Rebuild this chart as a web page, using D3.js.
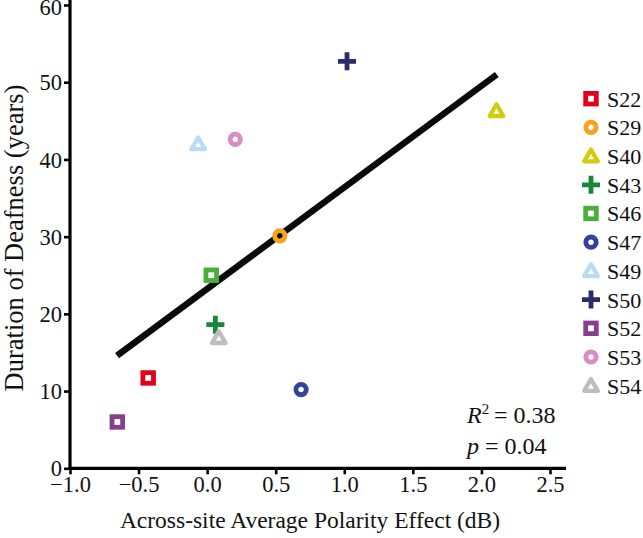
<!DOCTYPE html>
<html><head><meta charset="utf-8">
<script src="https://cdn.jsdelivr.net/npm/d3@7"></script>
<style>body{margin:0;background:#fff}svg{display:block}text{font-family:"Liberation Serif","Times New Roman",serif}</style>
</head><body><svg id="c" width="643" height="538"></svg>
<script>
const subjects = ["S22","S29","S40","S43","S46","S47","S49","S50","S52","S53","S54"];
const polarity = [-0.43, 0.53, 2.11, 0.06, 0.03, 0.685, -0.065, 1.02, -0.655, 0.205, 0.085];
const duration = [11.7, 30.1, 46.3, 18.6, 25.0, 10.2, 42.0, 52.7, 6.0, 42.6, 16.9];
const shapes = ["square","circle","triangle","plus","square","circle","triangle","plus","square","circle","triangle"];
const colors = ["#e3001b","#f5a31e","#d2cc10","#17873a","#4aad3c","#33439a","#b7dcf4","#2b2a6b","#893f8d","#d88cc6","#bebebe"];
const fitX = [-0.657, 2.112];
const fitY = [14.6, 51.0];
const xTicks = [-1.0,-0.5,0.0,0.5,1.0,1.5,2.0,2.5];
const yTicks = [0,10,20,30,40,50,60];

const svg = d3.select("#c");
const x = d3.scaleLinear().domain([-1,2.5]).range([70,550]);
const y = d3.scaleLinear().domain([0,60]).range([468.3,5]);
const fmtMinus = d => (d<0?"\u2212":"") + Math.abs(d).toFixed(1);

// axes
const xAxis = svg.append("g").attr("transform","translate(0,468.3)")
  .call(d3.axisBottom(x).tickValues(xTicks).tickSize(6).tickSizeOuter(0).tickPadding(2).tickFormat(fmtMinus));
xAxis.select(".domain").attr("d","M68.5,0H566").attr("stroke-width",3.2);
const yAxis = svg.append("g").attr("transform","translate(70,0)")
  .call(d3.axisLeft(y).tickValues(yTicks).tickSize(6).tickSizeOuter(0).tickPadding(2).tickFormat(d3.format("d")));
yAxis.select(".domain").attr("d","M0,0V470").attr("stroke-width",3.2);
svg.selectAll(".tick line").attr("stroke-width",2.6).attr("stroke","#000");
svg.selectAll(".tick text").attr("font-size",22.5).attr("fill","#111").style("font-family",'"Liberation Serif",serif');
xAxis.selectAll(".tick text").attr("dy","0.72em");
yAxis.selectAll(".tick text").attr("dy","0.34em");
yAxis.selectAll(".tick").filter(d=>d===60).select("text").attr("dy","0.42em");

// axis titles
svg.append("text").attr("x",310).attr("y",528).attr("text-anchor","middle").attr("font-size",23.5).attr("fill","#111")
  .text("Across-site Average Polarity Effect (dB)");
svg.append("text").attr("transform","translate(23,238) rotate(-90)").attr("text-anchor","middle").attr("font-size",26.5).attr("fill","#111")
  .text("Duration of Deafness (years)");

// regression line
svg.append("line").attr("x1",x(fitX[0])).attr("y1",y(fitY[0])).attr("x2",x(fitX[1])).attr("y2",y(fitY[1]))
  .attr("stroke","#0a0a0a").attr("stroke-width",6.5);

function marker(g, shape, color){
  if(shape==="square") g.append("rect").attr("x",-5.3).attr("y",-5.3).attr("width",10.6).attr("height",10.6)
      .attr("fill","none").attr("stroke",color).attr("stroke-width",4.8);
  else if(shape==="circle") g.append("circle").attr("r",5.2).attr("fill","none").attr("stroke",color).attr("stroke-width",4.8);
  else if(shape==="triangle") g.append("path").attr("d","M0,-6.5L6.8,5.2L-6.8,5.2Z").attr("fill","none")
      .attr("stroke",color).attr("stroke-width",4.3).attr("stroke-linejoin","round");
  else g.append("path").attr("d","M-9,0H9M0,-9V9").attr("stroke",color).attr("stroke-width",4.8);
}

// points
subjects.forEach((s,i)=>{
  const g = svg.append("g").attr("transform",`translate(${x(polarity[i])},${y(duration[i])})`);
  marker(g, shapes[i], colors[i]);
});

// legend
subjects.forEach((s,i)=>{
  const yy = 98.7 + i*28.7;
  const g = svg.append("g").attr("transform",`translate(591,${yy})`);
  marker(g, shapes[i], colors[i]);
  svg.append("text").attr("x",607).attr("y",yy).attr("dy","0.36em").attr("font-size",22).attr("fill","#111").text(s);
});

// annotation
const t1 = svg.append("text").attr("x",467).attr("y",423).attr("font-size",24).attr("fill","#111");
t1.append("tspan").attr("font-style","italic").text("R");
t1.append("tspan").attr("font-size",15).attr("dy",-9).text("2");
t1.append("tspan").attr("dy",9).text("\u2009= 0.38");
const t2 = svg.append("text").attr("x",467).attr("y",454).attr("font-size",24).attr("fill","#111");
t2.append("tspan").attr("font-style","italic").text("p");
t2.append("tspan").text(" = 0.04");
</script></body></html>
